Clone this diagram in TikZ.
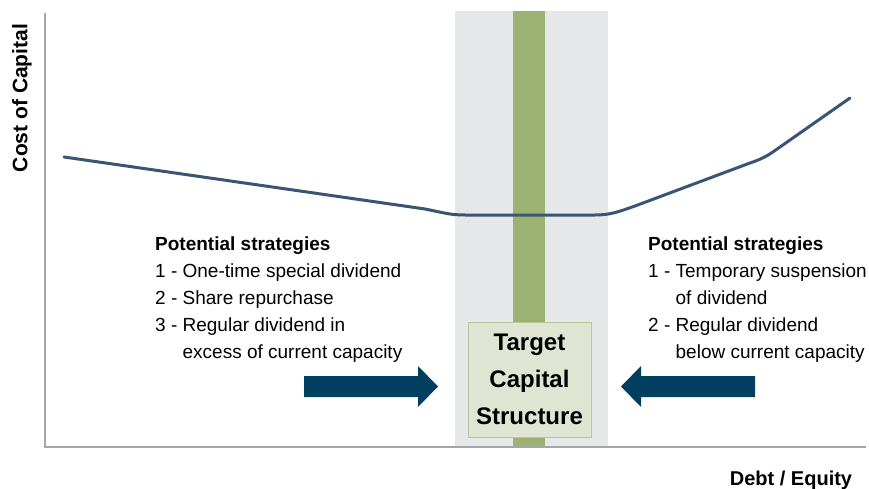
\documentclass[tikz,border=0pt]{standalone}
\usepackage{fontspec}
\setmainfont{Liberation Sans}

\definecolor{bandgray}{HTML}{E6E7E9}
\definecolor{bargreen}{HTML}{9CB273}
\definecolor{boxgreen}{HTML}{DFE5D2}
\definecolor{boxedge}{HTML}{B4C797}
\definecolor{curveblue}{HTML}{3A5573}
\definecolor{arrowblue}{HTML}{003F5F}
\definecolor{axisgray}{HTML}{A6A6A6}

\begin{document}
\begin{tikzpicture}[x=1pt,y=-1pt]
				\tikzstyle{every node}=[inner sep=0pt]
				\tikzstyle{axislabel}=[font=\fontsize{21}{24}\selectfont\bfseries]
				\tikzstyle{strategies}=[anchor=north west,align=left,
				font=\fontsize{19}{27}\selectfont]
				\tikzstyle{blockarrow}=[fill=arrowblue]
				\useasboundingbox (0,0) rectangle (869,489);
				% target zone behind the curve
				\fill[bandgray] (455,11) rectangle (608,447);
				\fill[bargreen] (513,11) rectangle (545,447);
				% axes
				\draw[axisgray,line width=1.2pt] (45,13) -- (45,447) -- (866,447);
				\node[axislabel,rotate=90] (ylab) at (22,98) {Cost of Capital};
				\node[axislabel,font=\fontsize{20}{24}\selectfont\bfseries] (xlab) 
				at (791,480) {Debt / Equity};
				% cost of capital curve
				\draw[curveblue,line width=3pt,line cap=round] (64,157) -- (425,209) 
					.. controls (445,213) and (450,215) .. (465,215) -- (595,215) 
					.. controls (610,215) and (618,212) .. (635,206) -- (750,163) 
					.. controls (765,158) and (770,154) .. (780,147) -- (850,98);
				% target box
				\node[fill=boxgreen,draw=boxedge,line width=1pt,minimum width=123pt,
				minimum height=115pt,align=center,
				font=\fontsize{24}{37}\selectfont\bfseries] (target) at (529.5,379.5) 
				{\rule{0pt}{1.5pt}Target\\Capital\\Structure};
				% strategies on both sides
				\node[strategies] (left) at (155,237) 
				{\textbf{Potential strategies}\\
					1 - One-time special dividend\\
					2 - Share repurchase\\
					3 - Regular dividend in\\
					\phantom{3 - }excess of current capacity};
				\node[strategies] (right) at (648,237) 
				{\textbf{Potential strategies}\\
					1 - Temporary suspension\\
					\phantom{1 - }of dividend\\
					2 - Regular dividend\\
					\phantom{2 - }below current capacity};
				% arrows pushing toward the target
				\fill[blockarrow] (304,376) -- (418,376) -- (418,366) -- (438,386.5) 
					-- (418,407) -- (418,397) -- (304,397) -- cycle;
				\fill[blockarrow] (755,376) -- (641,376) -- (641,366) -- (621,386.5) 
					-- (641,407) -- (641,397) -- (755,397) -- cycle;
\end{tikzpicture}
\end{document}
